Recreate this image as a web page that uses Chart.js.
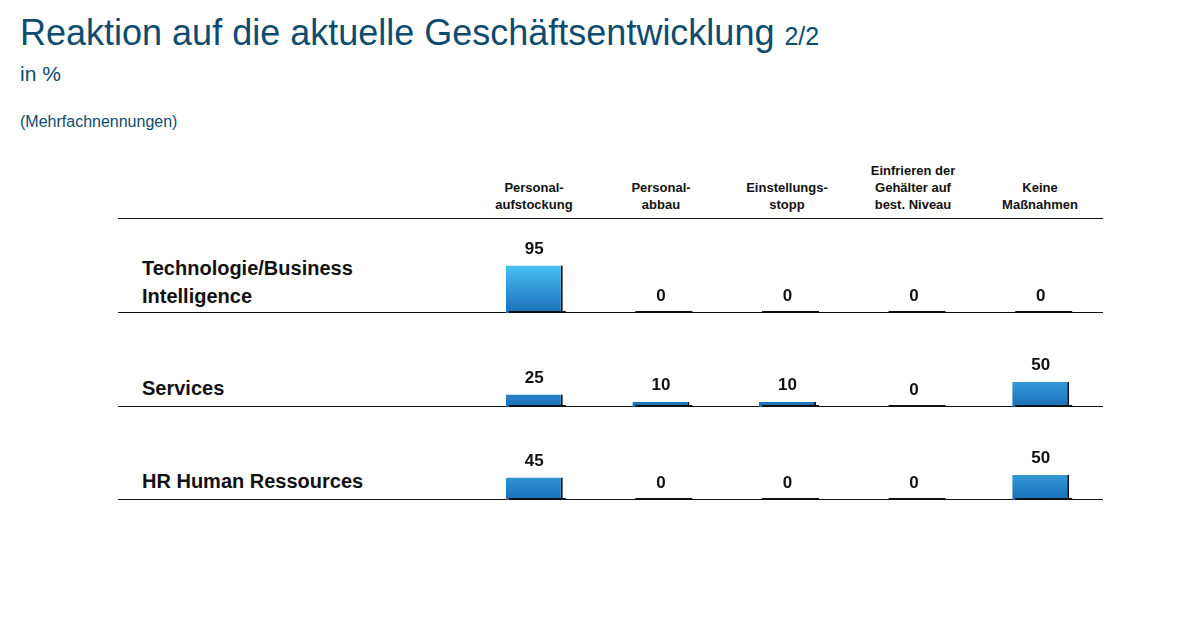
<!DOCTYPE html>
<html><head><meta charset="utf-8">
<script src="https://cdn.jsdelivr.net/npm/chart.js@4"></script>
<style>
body{margin:0;width:1200px;height:638px;background:#fff;position:relative;font-family:"Liberation Sans",Arial,sans-serif;overflow:hidden}
.a{position:absolute}
.h{position:absolute;font-size:13px;font-weight:bold;text-align:center;width:120px;line-height:17px;color:#111}
.r{position:absolute;left:142px;font-size:20px;font-weight:bold;color:#111;line-height:28px}
.ln{position:absolute;left:118px;width:985px;height:1px;background:#111}
canvas{position:absolute}
</style></head><body>
<div class="a" style="left:20px;top:12px;font-size:36px;color:#0d4c6e">Reaktion auf die aktuelle Geschäftsentwicklung <span style="font-size:25px">2/2</span></div>
<div class="a" style="left:20px;top:62px;font-size:21px;color:#0d4c6e">in %</div>
<div class="a" style="left:20px;top:113px;font-size:16px;color:#0d4c6e">(Mehrfachnennungen)</div>
<div id="hdr"></div>
<div class="ln" style="top:218px"></div>
<div class="ln" style="top:312px"></div>
<div class="ln" style="top:406px"></div>
<div class="ln" style="top:499px"></div>
<div class="r" style="top:254px">Technologie/Business<br>Intelligence</div>
<div class="r" style="top:374px">Services</div>
<div class="r" style="top:467px">HR Human Ressources</div>
<canvas id="c0" class="a"></canvas><canvas id="c1" class="a"></canvas><canvas id="c2" class="a"></canvas>
<script>
const categories=["Personal-\naufstockung","Personal-\nabbau","Einstellungs-\nstopp","Einfrieren der\nGehälter auf\nbest. Niveau","Keine\nMaßnahmen"];
const rows=["Technologie/Business Intelligence","Services","HR Human Ressources"];
const techValues=[95,0,0,0,0];
const servicesValues=[25,10,10,0,50];
const hrValues=[45,0,0,0,50];
const series=[techValues,servicesValues,hrValues];
const centers=[534,661,787,913,1040];
const hdr=document.getElementById('hdr');
categories.forEach((c,i)=>{const d=document.createElement('div');d.className='h';d.style.left=(centers[i]-60)+'px';const n=c.split('\n').length;d.style.top=(213-n*17)+'px';d.innerHTML=c.replace(/\n/g,'<br>');hdr.appendChild(d);});
const baselines=[313,407,500];
const plug={id:'p',afterDatasetsDraw(ch){const ctx=ch.ctx;const m=ch.getDatasetMeta(0);const ys=ch.scales.y;
m.data.forEach((b,i)=>{const v=ch.data.datasets[0].data[i];ctx.fillStyle='#111';ctx.fillRect(b.x-b.width/2+3,ys.getPixelForValue(0)-2,b.width,2);
ctx.font='bold 17px "Liberation Sans",Arial';ctx.textAlign='center';ctx.textBaseline='bottom';ctx.fillText(String(v),b.x,(v>0?b.y-8:ys.getPixelForValue(0)-8));});}};
series.forEach((vals,k)=>{const cv=document.getElementById('c'+k);cv.style.left='471px';cv.style.top=(baselines[k]-95)+'px';cv.style.width='633px';cv.style.height='95px';
new Chart(cv,{type:'bar',data:{labels:categories,datasets:[{data:vals,
backgroundColor:(c)=>{const a=c.chart.chartArea;if(!a)return '#2aa0e0';const g=c.chart.ctx.createLinearGradient(0,a.bottom-50,0,a.bottom);g.addColorStop(0,'#4cc4f4');g.addColorStop(1,'#1a6fb8');return g;},
borderColor:'#111',borderWidth:{right:2,top:0,left:0,bottom:0},borderSkipped:false,barPercentage:0.45,categoryPercentage:1}]},
options:{responsive:false,animation:false,events:[],layout:{padding:0},plugins:{legend:{display:false},tooltip:{enabled:false}},
scales:{x:{display:false},y:{display:false,min:0,max:190}}},plugins:[plug]});});
</script></body></html>
